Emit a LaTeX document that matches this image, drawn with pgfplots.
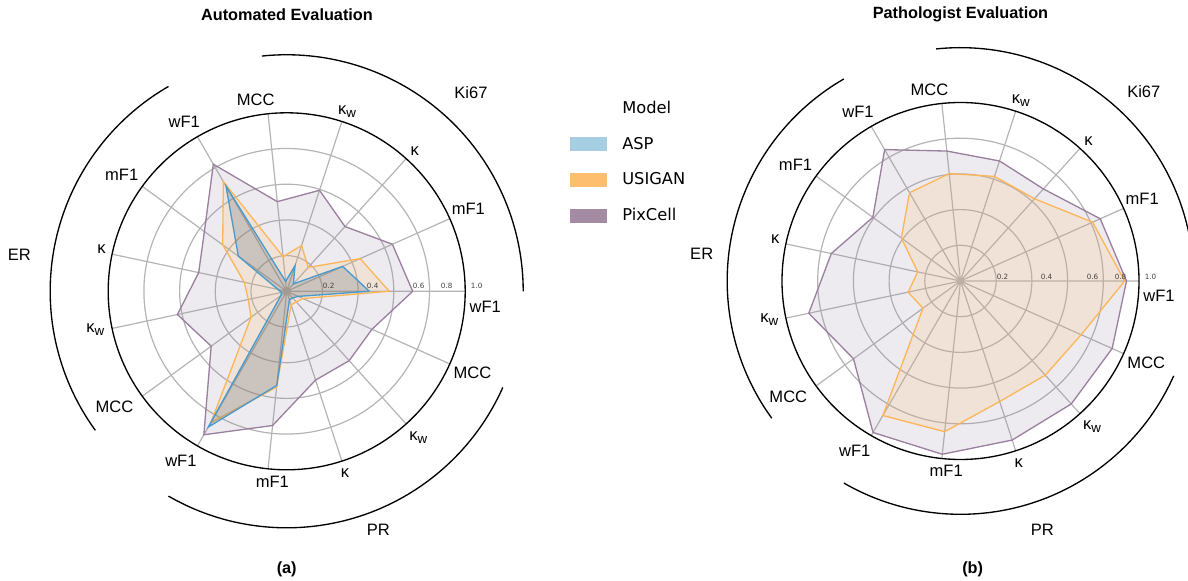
\documentclass[border=0pt]{standalone}
\usepackage{fontspec}
\setmainfont{Liberation Sans}
\newfontfamily\dejavu{DejaVu Sans}
\usepackage{pgfplots}
\pgfplotsset{compat=1.18}
\usepgfplotslibrary{polar}

\definecolor{aspline}{RGB}{72,155,204}
\definecolor{aspfill}{RGB}{70,85,100}
\definecolor{asplegend}{RGB}{166,206,227}
\definecolor{usiline}{RGB}{252,182,90}
\definecolor{usifill}{RGB}{253,191,111}
\definecolor{usilegend}{RGB}{253,191,111}
\definecolor{pixline}{RGB}{155,128,160}
\definecolor{pixfill}{RGB}{150,135,165}
\definecolor{pixlegend}{RGB}{163,140,163}
\definecolor{gridgray}{RGB}{180,180,180}

\newcommand{\lab}{\fontsize{12.4}{14}\selectfont}
\newcommand{\kw}{κ\raisebox{-0.35ex}{\fontsize{10}{10}\selectfont w}}

\pgfplotsset{
 radar/.style={
   width=267.75pt, height=267.75pt, scale only axis,
   anchor=center, ymin=0, ymax=1, xmin=0, xmax=360,
   xtick={0,24,...,336}, ytick={0.2,0.4,0.6,0.8},
   xticklabels={}, yticklabels={},
   major tick length=0pt,
   grid=major,
   major grid style={draw=gridgray, line width=0.9pt},
   axis line style={black, line width=1pt},
   y axis line style={draw=none},
   clip=false,
 }
}

\begin{document}
\begin{tikzpicture}[x=0.75pt,y=0.75pt]

% ---------------- left: Automated Evaluation
\begin{polaraxis}[radar, at={(215.025pt,217.275pt)},
  legend style={at={(1.2936,1.0328)}, anchor=north west, draw=none, fill=none,
    inner sep=0pt, outer sep=0pt, font=\dejavu\fontsize{12.2}{14}\selectfont,
    row sep=16.15pt, column sep=11.8pt,
    nodes={inner sep=0pt}},
  legend cell align=left]
\addplot[forget plot, draw=pixline, line width=1pt, fill=pixfill, fill opacity=0.17]
 coordinates {(0,0.706) (24,0.648) (48,0.488) (72,0.595) (96,0.505) (120,0.822) (144,0.57) (168,0.504) (192,0.626) (216,0.523) (240,0.928) (264,0.756) (288,0.523) (312,0.523) (336,0.523) (360,0.706)};
\addplot[forget plot, draw=usiline, line width=1pt, fill=usifill, fill opacity=0.2]
 coordinates {(0,0.575) (24,0.45) (48,0.18) (72,0.27) (96,0.195) (120,0.71) (144,0.443) (168,0.243) (192,0.22) (216,0.247) (240,0.85) (264,0.54) (288,0.08) (312,0.08) (336,0.10) (360,0.575)};
\addplot[forget plot, draw=aspline, line width=1pt, fill=aspfill, fill opacity=0.22]
 coordinates {(0,0.463) (24,0.343) (48,0.056) (72,0.151) (96,0.056) (120,0.68) (144,0.335) (168,0.05) (192,0.03) (216,0.04) (240,0.878) (264,0.53) (288,0.05) (312,0.05) (336,0.07) (360,0.463)};
\addlegendimage{empty legend}
\addlegendentry{Model}
\addlegendimage{legend image code/.code={\fill[asplegend] (0pt,-4.875pt) rectangle (27pt,4.875pt);}}
\addlegendentry{ASP}
\addlegendimage{legend image code/.code={\fill[usilegend] (0pt,-4.875pt) rectangle (27pt,4.875pt);}}
\addlegendentry{USIGAN}
\addlegendimage{legend image code/.code={\fill[pixlegend] (0pt,-4.875pt) rectangle (27pt,4.875pt);}}
\addlegendentry{PixCell}
\coordinate (LC) at (axis cs:0,0);
\end{polaraxis}

% ---------------- right: Pathologist Evaluation
\begin{polaraxis}[radar, at={(720.375pt,225pt)}]
\addplot[draw=pixline, line width=1pt, fill=pixfill, fill opacity=0.17]
 coordinates {(0,0.93) (24,0.857) (48,0.694) (72,0.707) (96,0.732) (120,0.85) (144,0.607) (168,0.74) (192,0.869) (216,0.741) (240,0.98) (264,0.976) (288,0.937) (312,0.927) (336,0.93) (360,0.93)};
\addplot[draw=usiline, line width=1pt, fill=usifill, fill opacity=0.2]
 coordinates {(0,0.92) (24,0.81) (48,0.62) (72,0.616) (96,0.605) (120,0.571) (144,0.41) (168,0.245) (192,0.30) (216,0.26) (240,0.87) (264,0.849) (288,0.71) (312,0.71) (336,0.74) (360,0.92)};
\coordinate (RC) at (axis cs:0,0);
\end{polaraxis}

% ---------------- angular labels
\foreach \dx/\dy/\t in {198.5/-15.2/wF1, 181.7/82/mF1, 128/140.3/κ, 60.4/180/\kw, -31/191/MCC,
  -102.5/169.3/wF1, -165/116/mF1, -185.2/42.3/κ, -191.3/-38.8/\kw, -172.2/-116/MCC,
  -105.8/-170/wF1, -14.3/-190.2/mF1, 58.3/-182/κ, 131.5/-146/\kw, 185.8/-81.8/MCC}{
  \node[inner sep=0pt] at ([shift={(\dx,\dy)}]LC) {\lab \t};
  \node[inner sep=0pt] at ([shift={(\dx,\dy)}]RC) {\lab \t};
}
% radial labels
\foreach \dx/\t in {42/0.2, 86/0.4, 132/0.6, 160/0.8, 190/1.0}{
  \node[inner sep=0pt, font=\dejavu\fontsize{5.4}{6}\selectfont, text=black!75] at ([shift={(\dx,5)}]LC) {\t};
  \node[inner sep=0pt, font=\dejavu\fontsize{5.4}{6}\selectfont, text=black!75] at ([shift={(\dx,4.5)}]RC) {\t};
}
% group arcs
\draw[line width=1pt] ([shift={(0:236.5)}]LC) arc[start angle=0, end angle=96, radius=177.4pt];
\draw[line width=1pt] ([shift={(120:236.5)}]LC) arc[start angle=120, end angle=216, radius=177.4pt];
\draw[line width=1pt] ([shift={(240:236.5)}]LC) arc[start angle=240, end angle=336, radius=177.4pt];
\draw[line width=1pt] ([shift={(0:233.3)}]RC) arc[start angle=0, end angle=96, radius=175pt];
\draw[line width=1pt] ([shift={(120:233.3)}]RC) arc[start angle=120, end angle=216, radius=175pt];
\draw[line width=1pt] ([shift={(240:233.3)}]RC) arc[start angle=240, end angle=336, radius=175pt];
% group labels
\node[inner sep=0pt] at ([shift={(184.3,199)}]LC) {\lab Ki67};
\node[inner sep=0pt] at ([shift={(-267.4,36.3)}]LC) {\lab ER};
\node[inner sep=0pt] at ([shift={(91.6,-238.7)}]LC) {\lab PR};
\node[inner sep=0pt] at ([shift={(183.3,189.3)}]RC) {\lab Ki67};
\node[inner sep=0pt] at ([shift={(-258.8,26.7)}]RC) {\lab ER};
\node[inner sep=0pt] at ([shift={(81.8,-249)}]RC) {\lab PR};
% titles
\node[inner sep=0pt, font=\bfseries\fontsize{12.2}{14}\selectfont] at ([shift={(0.3,276.8)}]LC) {Automated Evaluation};
\node[inner sep=0pt, font=\bfseries\fontsize{12.2}{14}\selectfont] at ([shift={(0,266.5)}]RC) {Pathologist Evaluation};
\node[inner sep=0pt, font=\bfseries\fontsize{12.2}{14}\selectfont] at ([shift={(0,-277.7)}]LC) {(a)};
\node[inner sep=0pt, font=\bfseries\fontsize{12.2}{14}\selectfont] at ([shift={(12.2,-288)}]RC) {(b)};

\pgfresetboundingbox
\path[use as bounding box] ([shift={(-286.7,-289.7)}]LC) rectangle ([shift={(901.3,291.3)}]LC);
\end{tikzpicture}
\end{document}
